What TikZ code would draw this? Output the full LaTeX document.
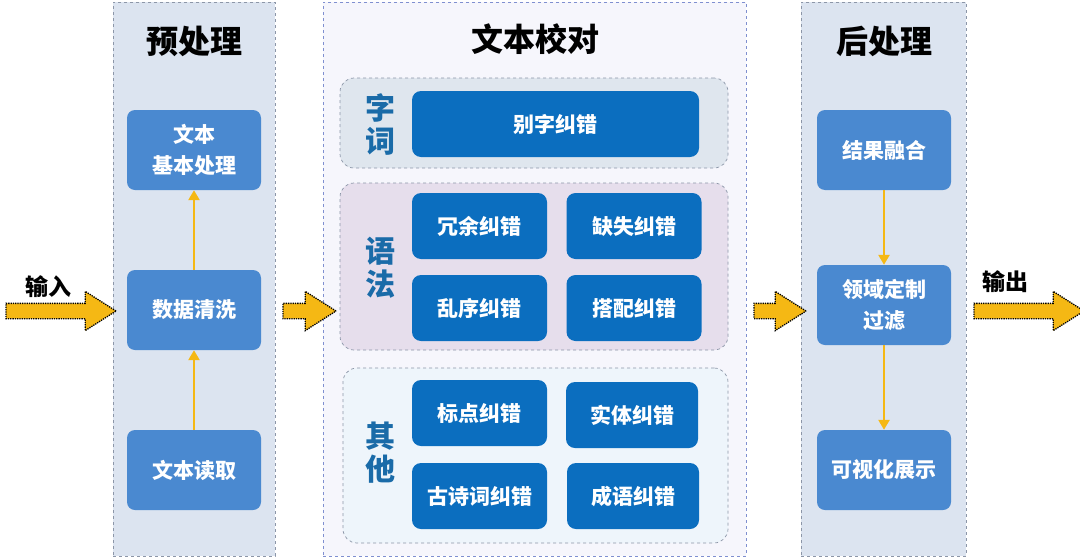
\documentclass[tikz,border=0pt]{standalone}
\usepackage{fontspec}
\setmainfont{Noto Sans CJK SC}
\usepackage{tikz}
\usetikzlibrary{shapes.arrows,arrows.meta}
\definecolor{PanelFill}{HTML}{DCE4F0}
\definecolor{PanelLine}{HTML}{8C96A8}
\definecolor{MidFill}{HTML}{F6F6FC}
\definecolor{MidLine}{HTML}{7F8FD0}
\definecolor{WordFill}{HTML}{DFE6EE}
\definecolor{GramFill}{HTML}{E6DEEC}
\definecolor{OtherFill}{HTML}{EEF5FB}
\definecolor{LightBox}{HTML}{4A89D0}
\definecolor{DarkBox}{HTML}{0B6EBF}
\definecolor{SideBlue}{HTML}{1A6BA8}
\definecolor{FlowYellow}{HTML}{F5B814}

\tikzset{
  panel/.style={draw=#1,dashed,line width=0.6pt,inner sep=0pt},
  group/.style={draw=PanelLine,dashed,line width=0.7pt,rounded corners=14pt,inner sep=0pt},
  prebox/.style={fill=LightBox,rounded corners=8pt,text=white,align=center,
    minimum width=134pt,minimum height=80pt,font=\fontsize{21}{31}\selectfont\bfseries},
  corrbox/.style={fill=DarkBox,rounded corners=9pt,text=white,align=center,
    minimum height=66pt,font=\fontsize{21}{28}\selectfont\bfseries},
  paneltitle/.style={font=\fontsize{32}{36}\selectfont\bfseries},
  sidelabel/.style={text=SideBlue,align=center,font=\fontsize{30}{33}\selectfont\bfseries},
  flow/.style={draw=FlowYellow,line width=2.4pt,-{Triangle[length=10pt,width=11pt]}},
  bigarrow/.style={single arrow,fill=FlowYellow,draw=black,densely dotted,line width=1.3pt,
    inner sep=7pt,single arrow head extend=12pt,single arrow tip angle=65,
    single arrow head indent=0pt,minimum height=#1}
}

\begin{document}
\begin{tikzpicture}[x=1pt,y=-1pt]
\useasboundingbox[fill=white] (0,0) rectangle (1080,560);

% panels
\node[panel=PanelLine,fill=PanelFill,minimum width=162pt,minimum height=554pt] (pre) at (194,279) {};
\node[panel=MidLine,fill=MidFill,minimum width=423pt,minimum height=554pt] (mid) at (534.5,279) {};
\node[panel=PanelLine,fill=PanelFill,minimum width=165pt,minimum height=554pt] (post) at (883.5,279) {};

\node[paneltitle] (pretitle) at (194,41) {预处理};
\node[paneltitle] (midtitle) at (535,39) {文本校对};
\node[paneltitle] (posttitle) at (884,41) {后处理};

% groups in the middle panel
\node[group,fill=WordFill,minimum width=388pt,minimum height=90pt] (wordgrp) at (534,123) {};
\node[group,fill=GramFill,minimum width=388pt,minimum height=167pt] (gramgrp) at (534,266.5) {};
\node[group,fill=OtherFill,minimum width=385pt,minimum height=175pt] (othergrp) at (535.5,455.5) {};

\node[sidelabel] (wordlbl) at (380,124) {字\\词};
\node[sidelabel] (gramlbl) at (380,268) {语\\法};
\node[sidelabel] (otherlbl) at (380,453) {其\\他};

% correction boxes
\node[corrbox,minimum width=287pt] (typo) at (555.5,124) {别字纠错};
\node[corrbox,minimum width=135pt] (redund) at (479.5,226) {冗余纠错};
\node[corrbox,minimum width=135pt] (missing) at (634,226) {缺失纠错};
\node[corrbox,minimum width=135pt] (order) at (479.5,308) {乱序纠错};
\node[corrbox,minimum width=135pt] (colloc) at (634,308) {搭配纠错};
\node[corrbox,minimum width=135pt] (punct) at (479.5,413) {标点纠错};
\node[corrbox,minimum width=132pt] (entity) at (632,415) {实体纠错};
\node[corrbox,minimum width=135pt] (poem) at (479.5,496) {古诗词纠错};
\node[corrbox,minimum width=132pt] (idiom) at (633,496) {成语纠错};

% pre-processing
\node[prebox] (basic) at (194,150) {文本\\基本处理};
\node[prebox] (clean) at (194,310) {数据清洗};
\node[prebox] (read) at (194,470) {文本读取};
\draw[flow] (read.north) -- (clean.south);
\draw[flow] (clean.north) -- (basic.south);

% post-processing
\node[prebox] (fuse) at (884,150) {结果融合};
\node[prebox] (filter) at (884,305) {领域定制\\过滤};
\node[prebox] (show) at (884,470) {可视化展示};
\draw[flow] (fuse.south) -- (filter.north);
\draw[flow] (filter.south) -- (show.north);

% big arrows
\node[bigarrow=110pt] (inarrow) at (55,311) {};
\node[bigarrow=53pt] (prearrow) at (303.5,311) {};
\node[bigarrow=52pt] (midarrow) at (774,311) {};
\node[bigarrow=110pt] (outarrow) at (1023,311) {};
\node[font=\fontsize{23}{26}\selectfont\bfseries] (inlbl) at (48,287) {输入};
\node[font=\fontsize{23}{26}\selectfont\bfseries] (outlbl) at (1005,282) {输出};
\end{tikzpicture}
\end{document}
